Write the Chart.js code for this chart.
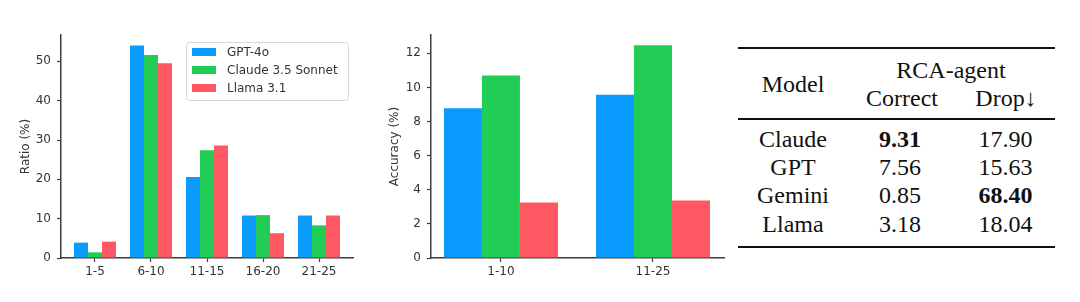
<!DOCTYPE html>
<html><head><meta charset="utf-8">
<script src="https://cdn.jsdelivr.net/npm/chart.js@4"></script>
<style>
html,body{margin:0;padding:0;background:#fff;}
body{width:1080px;height:302px;position:relative;overflow:hidden;}
canvas{position:absolute;top:0;}
#c1{left:0;}
#c2{left:360px;}
.t{position:absolute;transform:translate(-50%,-50%);font-family:"Liberation Serif","Times New Roman",serif;font-size:24px;line-height:1;color:#111;white-space:nowrap;}
.b{font-weight:bold;}
.rule{position:absolute;left:738px;width:317px;background:#111;}
</style></head><body>
<canvas id="c1" width="360" height="302"></canvas>
<canvas id="c2" width="370" height="302"></canvas>
<div id="tbl"></div>
<script>
// ---- data ----
const ratioCategories = ['1-5', '6-10', '11-15', '16-20', '21-25'];
const seriesNames = ['GPT-4o', 'Claude 3.5 Sonnet', 'Llama 3.1'];
const ratioGPT = [3.9, 54.0, 20.6, 10.8, 10.8];
const ratioClaude = [1.45, 51.6, 27.4, 10.9, 8.3];
const ratioLlama = [4.15, 49.5, 28.6, 6.3, 10.8];
const ratioTicks = [0, 10, 20, 30, 40, 50];

const accCategories = ['1-10', '11-25'];
const accGPT = [8.78, 9.57];
const accClaude = [10.69, 12.47];
const accLlama = [3.25, 3.37];
const accTicks = [0, 2, 4, 6, 8, 10, 12];

const tableModels = ['Claude', 'GPT', 'Gemini', 'Llama'];
const tableCorrect = ['9.31', '7.56', '0.85', '3.18'];
const tableDrop = ['17.90', '15.63', '68.40', '18.04'];
const boldCorrect = [true, false, false, false];
const boldDrop = [false, false, true, false];

// ---- style ----
const COLORS = ['#0A9BFF', '#21CD55', '#FF5862'];
const AX = '#333333';
const SPINE = '#3c3c3c';
const FONT = "'DejaVu Sans', sans-serif";

const insideLegend = {
  id: 'insideLegend',
  afterDraw(chart) {
    const ctx = chart.ctx;
    const ca = chart.chartArea;
    const w = 162, h = 58;
    const x = ca.right - 5 - w, y = ca.top + 7;
    ctx.save();
    ctx.beginPath();
    ctx.roundRect(x + 0.5, y + 0.5, w, h, 3);
    ctx.fillStyle = 'rgba(255,255,255,0.85)';
    ctx.fill();
    ctx.strokeStyle = '#d6d6d6';
    ctx.lineWidth = 1;
    ctx.stroke();
    ctx.font = '12px ' + FONT;
    ctx.textBaseline = 'middle';
    chart.data.datasets.forEach((ds, i) => {
      const cy = y + 10 + i * 18;
      ctx.fillStyle = ds.backgroundColor;
      ctx.fillRect(x + 6, cy - 4, 24, 8);
      ctx.fillStyle = AX;
      ctx.fillText(ds.label, x + 41, cy + 0.5);
    });
    ctx.restore();
  }
};

function makeChart(id, cats, series, ticks, yMax, xMin, xMax, yTitle, yWidth, titlePad, rightPad, legend) {
  return new Chart(document.getElementById(id), {
    type: 'bar',
    data: {
      datasets: series.map((vals, i) => ({
        label: seriesNames[i],
        data: vals.map((v, j) => ({x: j, y: v})),
        backgroundColor: COLORS[i],
        borderWidth: 0,
        categoryPercentage: 0.75,
        barPercentage: 1.0
      }))
    },
    options: {
      responsive: false,
      animation: false,
      devicePixelRatio: 1,
      layout: {padding: {top: 35, right: rightPad, left: 0, bottom: 0}},
      plugins: {legend: {display: false}, tooltip: {enabled: false}},
      scales: {
        x: {
          type: 'linear',
          offset: false,
          min: xMin, max: xMax,
          afterBuildTicks: s => { s.ticks = cats.map((_, i) => ({value: i})); },
          afterFit: s => { s.height = 44; },
          ticks: {font: {family: FONT, size: 12}, color: AX, padding: 3, maxRotation: 0, autoSkip: false, includeBounds: false,
                  callback: v => cats[v] !== undefined ? cats[v] : ''},
          grid: {offset: false, drawOnChartArea: false, color: SPINE, tickLength: 4, tickWidth: 1.2},
          border: {display: true, color: SPINE, width: 1.5}
        },
        y: {
          min: 0, max: yMax,
          afterBuildTicks: s => { s.ticks = ticks.map(v => ({value: v})); },
          afterFit: s => { s.width = yWidth; },
          ticks: {font: {family: FONT, size: 12}, color: AX, padding: 6},
          grid: {drawOnChartArea: false, color: SPINE, tickLength: 4, tickWidth: 1.2},
          border: {display: true, color: SPINE, width: 1.5},
          title: {display: true, text: yTitle, color: AX, font: {family: FONT, size: 12}, padding: {top: titlePad, bottom: 0}}
        }
      }
    },
    plugins: legend ? [insideLegend] : []
  });
}

makeChart('c1', ratioCategories, [ratioGPT, ratioClaude, ratioLlama], ratioTicks, 56.7, -0.607, 4.607, 'Ratio (%)', 61, 18.5, 7, true);
makeChart('c2', accCategories, [accGPT, accClaude, accLlama], accTicks, 13.07, -0.46, 1.467, 'Accuracy (%)', 71, 27.8, 6, false);

// ---- table ----
const tbl = document.getElementById('tbl');
function txt(s, x, y, bold) {
  const d = document.createElement('div');
  d.className = 't' + (bold ? ' b' : '');
  d.textContent = s;
  d.style.left = x + 'px';
  d.style.top = y + 'px';
  tbl.appendChild(d);
}
function rule(y, h) {
  const d = document.createElement('div');
  d.className = 'rule';
  d.style.top = y + 'px';
  d.style.height = h + 'px';
  tbl.appendChild(d);
}
rule(47, 2);
rule(118, 1.5);
rule(246, 2);
txt('Model', 793, 84);
txt('RCA-agent', 951, 70);
txt('Correct', 902, 98);
txt('Drop\u2193', 1006, 98);
const rowY = [139, 167, 195, 224];
tableModels.forEach((m, i) => {
  txt(m, 793, rowY[i]);
  txt(tableCorrect[i], 900, rowY[i], boldCorrect[i]);
  txt(tableDrop[i], 1005.5, rowY[i], boldDrop[i]);
});
</script>
</body></html>
